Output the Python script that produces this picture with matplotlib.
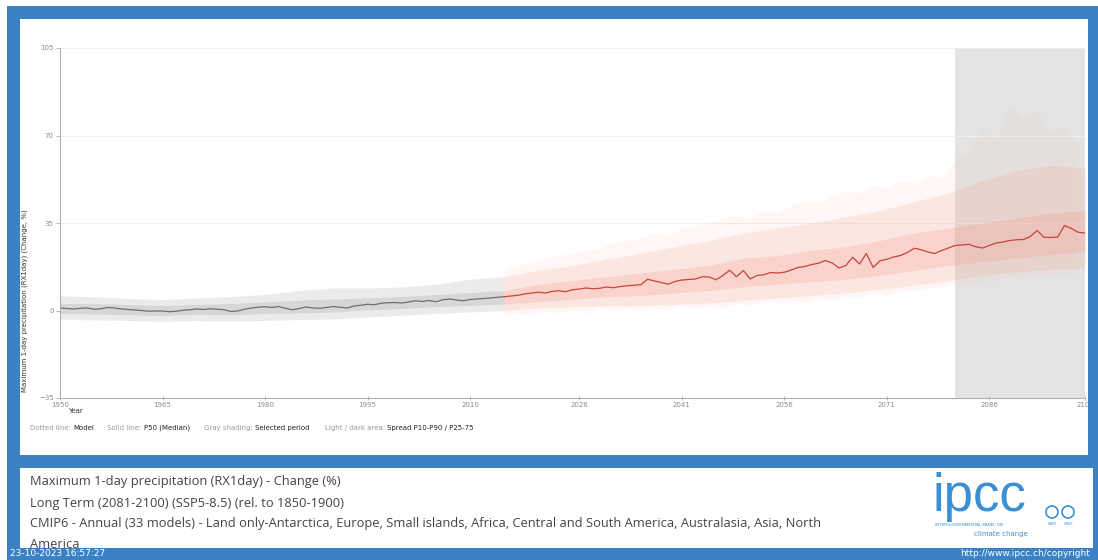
import numpy as np
import matplotlib.pyplot as plt
from matplotlib.patches import Rectangle, Circle

# Mediana (P50) anual del cambio de RX1day (%), 1950-2100
years = np.arange(1950, 2101)
p50 = [1.0, 0.8, 0.6, 0.9, 1.0, 0.5, 0.7, 1.2, 1.0, 0.6,
       0.4, 0.2, 0.0, -0.3, -0.2, -0.2, -0.5, -0.3, 0.1, 0.3,
       0.6, 0.4, 0.7, 0.5, 0.3, -0.4, -0.2, 0.5, 1.0, 1.3,
       1.5, 1.2, 1.6, 0.9, 0.3, 0.8, 1.4, 1.0, 0.9, 1.2,
       1.6, 1.3, 1.0, 1.8, 2.1, 2.5, 2.3, 2.9, 3.1, 3.2,
       3.0, 3.4, 3.9, 3.6, 4.0, 3.5, 4.3, 4.6, 4.2, 3.9,
       4.4, 4.6, 4.8, 5.0, 5.3, 5.5, 5.8, 6.1, 6.6, 7.0,
       7.3, 7.0, 7.6, 7.9, 7.5, 8.3, 8.6, 9.0, 8.7, 8.9,
       9.4, 9.1, 9.6, 9.9, 10.1, 10.3, 12.5, 11.8, 11.2, 10.5,
       11.6, 12.2, 12.4, 12.6, 13.5, 13.4, 12.3, 14.0, 16.1, 13.5,
       16.0, 12.6, 14.0, 14.3, 15.2, 15.0, 15.3, 16.2, 17.2, 17.6,
       18.4, 18.9, 20.0, 19.0, 17.0, 18.0, 21.3, 18.6, 22.8, 17.2,
       19.9, 20.5, 21.4, 22.0, 23.2, 24.9, 24.3, 23.4, 22.8, 24.0,
       25.0, 26.0, 26.2, 26.5, 25.5, 25.0, 26.0, 27.0, 27.4, 28.0,
       28.3, 28.4, 29.6, 32.0, 29.3, 29.2, 29.4, 34.0, 32.8, 31.3,
       31.0]

# Dispersion historica (cada 5 anos)
hist_years = [1950, 1955, 1960, 1965, 1970, 1975, 1980, 1985, 1990, 1995, 2000, 2005, 2010, 2015]
hist_p10 = [-3.5, -3.8, -4.0, -4.3, -4.0, -4.2, -4.0, -3.6, -3.4, -2.6, -1.9, -1.2, -0.6, 0.0]
hist_p25 = [-1.2, -1.4, -1.8, -2.0, -1.6, -1.8, -1.2, -1.0, -0.6, 0.2, 0.8, 1.5, 2.0, 2.6]
hist_p75 = [2.8, 2.8, 2.4, 2.0, 2.4, 2.8, 3.4, 4.2, 4.6, 5.0, 5.6, 6.4, 7.2, 8.0]
hist_p90 = [5.8, 5.5, 4.8, 4.4, 5.0, 5.6, 6.4, 8.0, 9.0, 9.0, 9.4, 10.5, 12.5, 13.5]

# Dispersion SSP5-8.5 (cada 5 anos)
fut_years = [2015, 2020, 2025, 2030, 2035, 2040, 2045, 2050, 2055, 2060, 2065, 2070, 2075, 2080, 2085, 2090, 2095, 2100]
fut_p10 = [0.0, 1.0, 1.5, 1.8, 2.0, 2.5, 3.0, 4.0, 5.0, 6.0, 7.0, 8.5, 10.0, 12.0, 14.0, 15.5, 16.5, 17.0]
fut_p25 = [2.6, 3.5, 4.5, 5.5, 6.0, 7.0, 8.0, 9.5, 10.5, 11.5, 12.5, 14.0, 16.0, 18.0, 19.5, 21.0, 22.5, 23.5]
fut_p75 = [8.0, 10.5, 12.0, 13.5, 15.0, 16.5, 18.0, 21.0, 22.0, 24.0, 25.5, 28.0, 31.0, 33.0, 35.0, 37.0, 39.0, 40.0]
fut_p90 = [13.5, 16.0, 18.0, 20.5, 23.0, 25.5, 28.0, 31.0, 33.0, 35.0, 37.5, 40.0, 43.5, 47.0, 52.0, 56.0, 58.0, 57.0]

# Extremos de los modelos (cada 2 anos)
mod_years = np.arange(2015, 2100, 2)
mod_max = [16, 18, 19, 21, 22, 23, 24, 25, 27, 28,
           29, 31, 30, 33, 34, 35, 37, 38, 37, 40,
           39, 42, 44, 43, 46, 48, 47, 50, 49, 52,
           51, 54, 53, 60, 64, 72, 68, 82, 76, 80,
           70, 74, 66]
mod_min = [-2, -1, -2, 0, -1, 0, -1, 1, 0, 1,
           0, 1, 0, 2, 1, 2, 1, 3, 2, 4,
           3, 4, 3, 5, 4, 6, 5, 7, 6, 8,
           8, 9, 9, 11, 10, 12, 12, 14, 13, 14,
           14, 15, 15]

xticks = [1950, 1965, 1980, 1995, 2010, 2026, 2041, 2056, 2071, 2086, 2100]
yticks = [-35, 0, 35, 70, 105]
periodo = (2081, 2100)

W, H = 1098, 560
azul = '#3b82c4'

fig = plt.figure(figsize=(W / 100, H / 100), dpi=100)
ax = fig.add_axes([60 / W, 1 - 398 / H, 1025 / W, 350 / H])

ax.axvspan(periodo[0], periodo[1], color='#e3e3e3', lw=0, zorder=0)
for v in yticks[2:]:
    ax.axhline(v, color='#f1eeee', lw=0.8, zorder=0.5)

ax.fill_between(hist_years, hist_p10, hist_p90, color='#bdbdbd', alpha=0.3, lw=0)
ax.fill_between(hist_years, hist_p25, hist_p75, color='#a8a8a8', alpha=0.3, lw=0)
ax.fill_between(mod_years, mod_min, mod_max, color='#f7a593', alpha=0.08, lw=0)
ax.fill_between(fut_years, fut_p10, fut_p90, color='#f7a593', alpha=0.2, lw=0)
ax.fill_between(fut_years, fut_p25, fut_p75, color='#f49a88', alpha=0.25, lw=0)

p50 = np.array(p50)
h = years <= 2015
ax.plot(years[h], p50[h], color='#6e6e6e', lw=0.9)
ax.plot(years[years >= 2015], p50[years >= 2015], color='#c8453c', lw=0.9)

ax.set_xlim(1950, 2100)
ax.set_ylim(-35, 105)
ax.set_xticks(xticks)
ax.set_xticklabels([str(t) for t in xticks])
ax.set_yticks(yticks)
ax.tick_params(labelsize=5, labelcolor='#8a8a8a', color='#aaaaaa', length=3, width=0.6, pad=1.5)
ax.tick_params(axis='x', direction='inout')
for s in ['top', 'right']:
    ax.spines[s].set_visible(False)
for s in ['left', 'bottom']:
    ax.spines[s].set_color('#b0b0b0')
    ax.spines[s].set_linewidth(0.8)
ax.set_facecolor('none')

# capa en coordenadas de pixel para marco y textos
ov = fig.add_axes([0, 0, 1, 1], zorder=5)
ov.set_xlim(0, W)
ov.set_ylim(H, 0)
ov.axis('off')

ov.text(25, 301, 'Maximum 1-day precipitation (RX1day) (Change, %)', rotation=90,
        ha='center', va='center', fontsize=5, color='#333333')
ov.text(68, 411, 'Year', fontsize=5, color='#333333', va='center')

leyenda = [(30, 'Dotted line:', 'Model'), (107, 'Solid line:', 'P50 (Median)'),
           (204, 'Gray shading:', 'Selected period'), (325, 'Light / dark area:', 'Spread P10-P90 / P25-75')]
for x0, k, v in leyenda:
    t = ov.text(x0, 428, k + ' ', fontsize=5, color='#9a9a9a', va='center')
    fig.canvas.draw()
    bb = t.get_window_extent()
    ov.text(x0 + bb.width, 428, v, fontsize=5, color='#222222', va='center')

# marco azul
for r in [(7, 6, 1091, 13), (7, 6, 13, 554), (1088, 6, 10, 455), (1093, 455, 5, 105),
          (7, 455, 1091, 13), (7, 548, 1091, 12)]:
    ov.add_patch(Rectangle(r[:2], r[2], r[3], color=azul, lw=0, zorder=4))

lineas = ['Maximum 1-day precipitation (RX1day) - Change (%)',
          'Long Term (2081-2100) (SSP5-8.5) (rel. to 1850-1900)',
          'CMIP6 - Annual (33 models) - Land only-Antarctica, Europe, Small islands, Africa, Central and South America, Australasia, Asia, North',
          'America']
for i, l in enumerate(lineas):
    ov.text(30, 482 + 21 * i, l, fontsize=9.3, color='#444444', va='center',
            family=['Open Sans', 'DejaVu Sans'], zorder=3)

ov.text(10, 554, '23-10-2023 16:57:27', fontsize=6.5, color='white', va='center', zorder=6)
ov.text(1090, 554, 'http://www.ipcc.ch/copyright', fontsize=6.5, color='white', va='center',
        ha='right', zorder=6)

# logo
azul_logo = '#3c8fd2'
ov.text(933, 511, 'ipcc', fontsize=38, color=azul_logo, va='baseline',
        family=['Liberation Sans', 'DejaVu Sans'])
ov.text(935, 525, 'INTERGOVERNMENTAL PANEL ON', fontsize=3, color=azul_logo, va='center')
ov.text(1028, 534, 'climate change', fontsize=5, color=azul_logo, va='center', ha='right')
for cx, lab in [(1052, 'WMO'), (1068, 'UNEP')]:
    ov.add_patch(Circle((cx, 512), 6, fill=False, ec=azul_logo, lw=1.2))
    ov.text(cx, 524, lab, fontsize=2.5, color=azul_logo, ha='center', va='center')

fig.savefig('out.png', dpi=100)
